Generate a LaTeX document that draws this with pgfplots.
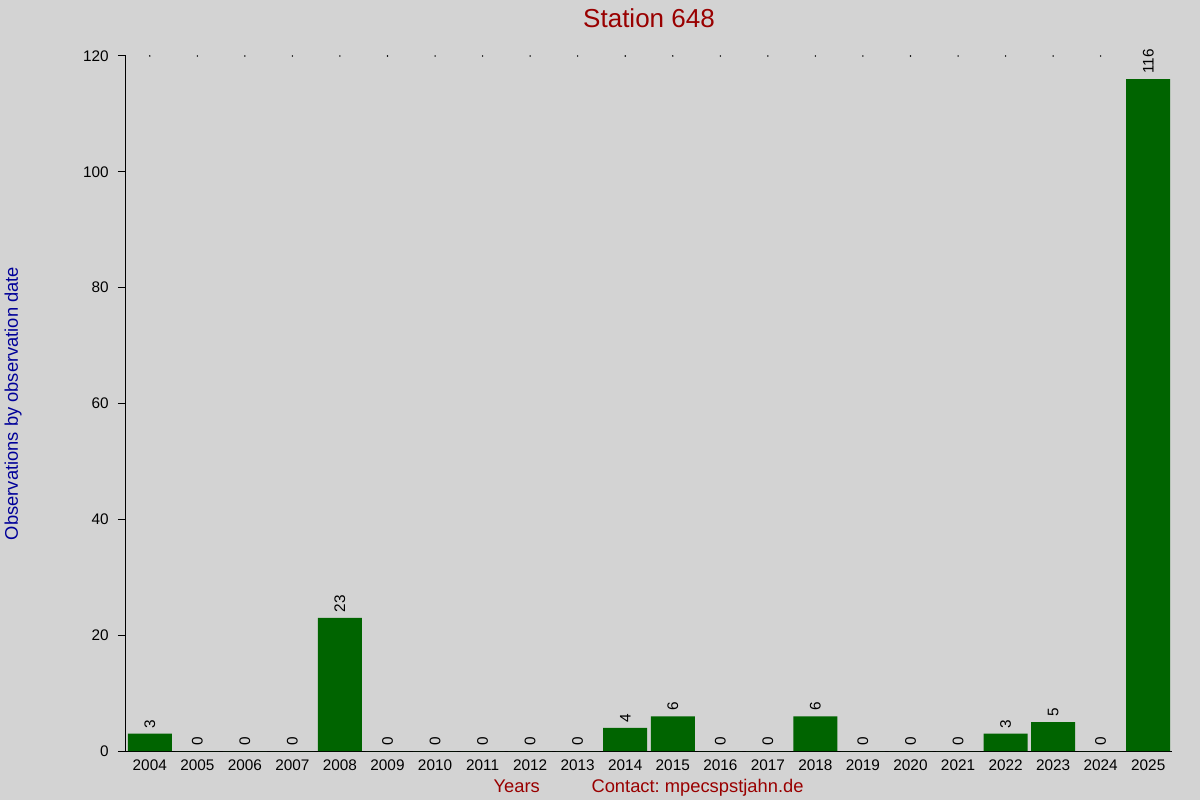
\documentclass[border=0pt]{standalone}
\usepackage{fontspec}
\setmainfont{Liberation Sans}
\usepackage{pgfplots}
\pgfplotsset{compat=1.18}
\definecolor{bgc}{RGB}{211,211,211}
\definecolor{bargreen}{RGB}{0,100,0}
\definecolor{titlered}{RGB}{153,0,0}
\definecolor{labelblue}{RGB}{0,0,153}
\frenchspacing
\begin{document}
\begin{tikzpicture}
\fill[bgc] (-94.5pt,-36.75pt) rectangle (805.5pt,563.25pt);
\begin{axis}[
    scale only axis,
    width=784.5pt, height=521.25pt,
    at={(0,0)}, anchor=south west,
    /pgf/number format/assume math mode=true,
    /pgf/number format/1000 sep={},
    font=\fontsize{11.5pt}{13pt}\selectfont,
    xmin=-0.5, xmax=21.5,
    ymin=0, ymax=120,
    xtick={0,...,21},
    xticklabels={2004,2005,2006,2007,2008,2009,2010,2011,2012,2013,2014,2015,2016,2017,2018,2019,2020,2021,2022,2023,2024,2025},
    xtick style={draw=none},
    ytick={0,20,...,120},
    ytick pos=left,
    tick align=outside,
    major tick length=6pt,
    every tick/.style={black, line width=0.75pt},
    axis x line*=bottom,
    axis y line*=left,
    axis line style={-, black, line width=0.75pt},
    xticklabel style={yshift=3pt},
    yticklabel style={xshift=-3.5pt},
    clip=false,
    title={Station 648},
    title style={at={(axis description cs:0.5,1)}, anchor=base, yshift=15pt,
                 font=\fontsize{19.5pt}{22pt}\selectfont, text=titlered},
    xlabel={Years},
    xlabel style={at={(axis description cs:0.3735,0)}, anchor=base, yshift=-30.75pt,
                  font=\fontsize{13.75pt}{16pt}\selectfont, text=titlered},
]
\addplot[ybar, bar width=33pt, bar shift=0pt, fill=bargreen, draw=none,
    nodes near coords,
    nodes near coords style={rotate=90, anchor=west, black, inner sep=4pt,
                             font=\fontsize{11.5pt}{13pt}\selectfont}]
coordinates {(0,3)(1,0)(2,0)(3,0)(4,23)(5,0)(6,0)(7,0)(8,0)(9,0)(10,4)
             (11,6)(12,0)(13,0)(14,6)(15,0)(16,0)(17,0)(18,3)(19,5)(20,0)(21,116)};
\addplot[only marks, mark=*, mark size=0.3pt, black]
coordinates {(0,120)(1,120)(2,120)(3,120)(4,120)(5,120)(6,120)(7,120)(8,120)(9,120)(10,120)
             (11,120)(12,120)(13,120)(14,120)(15,120)(16,120)(17,120)(18,120)(19,120)(20,120)};
\node[anchor=base, text=titlered, font=\fontsize{13.75pt}{16pt}\selectfont]
    at ([yshift=-30.75pt]axis description cs:0.5464,0) {Contact: mpecspstjahn.de};
\node[xshift=-81pt, rotate=90, anchor=base, text=labelblue, font=\fontsize{13.75pt}{16pt}\selectfont]
    at (axis description cs:0,0.5) {Observations by observation date};
\end{axis}
\pgfresetboundingbox
\path[use as bounding box] (-94.5pt,-36.75pt) rectangle (805.5pt,563.25pt);
\end{tikzpicture}
\end{document}
